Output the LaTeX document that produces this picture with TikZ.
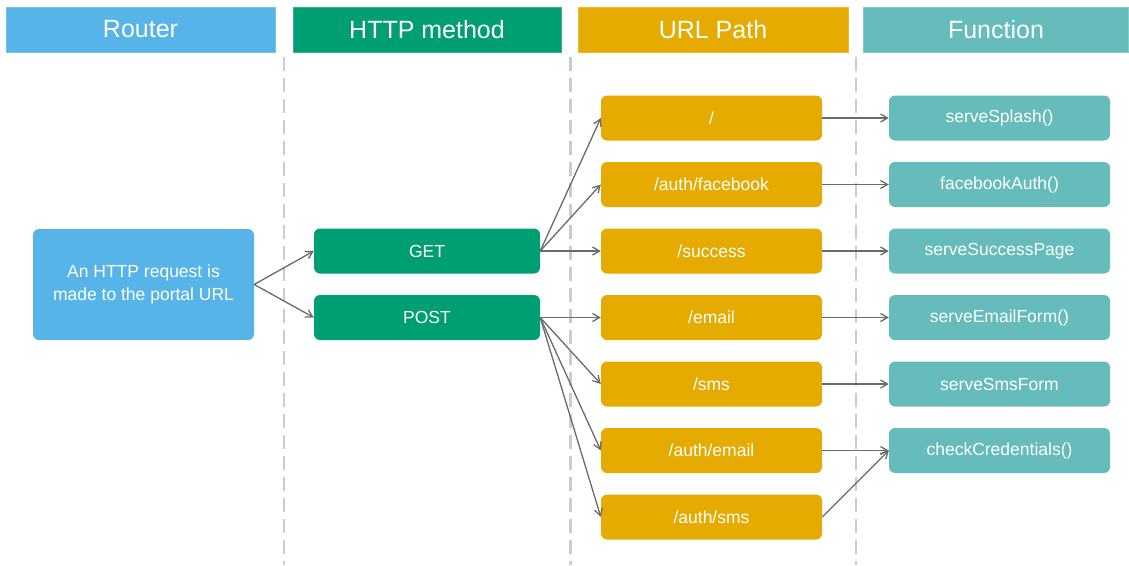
\documentclass[tikz,border=0pt]{standalone}
\usepackage{fontspec}
\setmainfont{Liberation Sans}
\usetikzlibrary{arrows.meta}
\def\boxw{221}
\def\boxh{45}
\definecolor{routerblue}{HTML}{56B4E9}
\definecolor{methodgreen}{HTML}{009E73}
\definecolor{pathyellow}{HTML}{E6AB00}
\definecolor{functeal}{HTML}{66BBBB}
\definecolor{sepgray}{HTML}{CCCCCC}
\definecolor{arrowgray}{HTML}{6A6A6A}

\begin{document}
\begin{tikzpicture}[x=1pt, y=-1pt,
  header/.style={fill=#1, draw=#1!80!white, line width=0.6pt, minimum height=45pt, text=white, font=\fontsize{25}{28}\selectfont, inner sep=0pt},
  item/.style={fill=#1, rounded corners=6pt, minimum width=\boxw pt, minimum height=\boxh pt, text=white, font=\fontsize{17.5}{21}\selectfont, inner sep=0pt},
  link/.style={arrowgray, line width=1.3pt, -{Straight Barb[length=7pt, width=8pt]}},
  sepline/.style={sepgray, line width=2.6pt, dash pattern=on 14pt off 7pt}]
\useasboundingbox (0,0) rectangle (1129,565);

% column headers
\node[header=routerblue, minimum width=269pt] (hrouter) at (140.5,29.5) {Router};
\node[header=methodgreen, minimum width=268pt] (hmethod) at (427,29.5) {HTTP method};
\node[header=pathyellow, minimum width=270pt] (hpath) at (713,29.5) {URL Path};
\node[header=functeal, minimum width=265pt] (hfunc) at (996,29.5) {Function};

% separators
\draw[sepline] (284,57) -- (284,565);
\draw[sepline] (570.5,57) -- (570.5,565);
\draw[sepline] (856,57) -- (856,565);

% router
\node[item=routerblue, minimum height=111pt, align=center] (request) at (143.5,284.5) {An HTTP request is\\[2pt]made to the portal URL};

% methods
\node[item=methodgreen, minimum width=226pt] (get) at (427,251) {GET};
\node[item=methodgreen, minimum width=226pt] (post) at (427,317.5) {POST};

% paths
\node[item=pathyellow] (root) at (711.5,118) {/};
\node[item=pathyellow] (authfb) at (711.5,184.5) {/auth/facebook};
\node[item=pathyellow] (success) at (711.5,251) {/success};
\node[item=pathyellow] (email) at (711.5,317.5) {/email};
\node[item=pathyellow] (sms) at (711.5,384) {/sms};
\node[item=pathyellow] (authemail) at (711.5,450.5) {/auth/email};
\node[item=pathyellow] (authsms) at (711.5,517) {/auth/sms};

% functions
\node[item=functeal] (splash) at (999.5,118) {serveSplash()};
\node[item=functeal] (fbauth) at (999.5,184.5) {facebookAuth()};
\node[item=functeal] (successpage) at (999.5,251) {serveSuccessPage};
\node[item=functeal] (emailform) at (999.5,317.5) {serveEmailForm()};
\node[item=functeal] (smsform) at (999.5,384) {serveSmsForm};
\node[item=functeal] (checkcred) at (999.5,450.5) {checkCredentials()};

% connectors
\draw[link] (request.east) -- (get.west);
\draw[link] (request.east) -- (post.west);
\draw[link] (get.east) -- (root.west);
\draw[link] (get.east) -- (authfb.west);
\draw[link] (get.east) -- (success.west);
\draw[link] (post.east) -- (email.west);
\draw[link] (post.east) -- (sms.west);
\draw[link] (post.east) -- (authemail.west);
\draw[link] (post.east) -- (authsms.west);
\draw[link] (root.east) -- (splash.west);
\draw[link] (authfb.east) -- (fbauth.west);
\draw[link] (success.east) -- (successpage.west);
\draw[link] (email.east) -- (emailform.west);
\draw[link] (sms.east) -- (smsform.west);
\draw[link] (authemail.east) -- (checkcred.west);
\draw[link] (authsms.east) -- (checkcred.west);
\end{tikzpicture}
\end{document}
